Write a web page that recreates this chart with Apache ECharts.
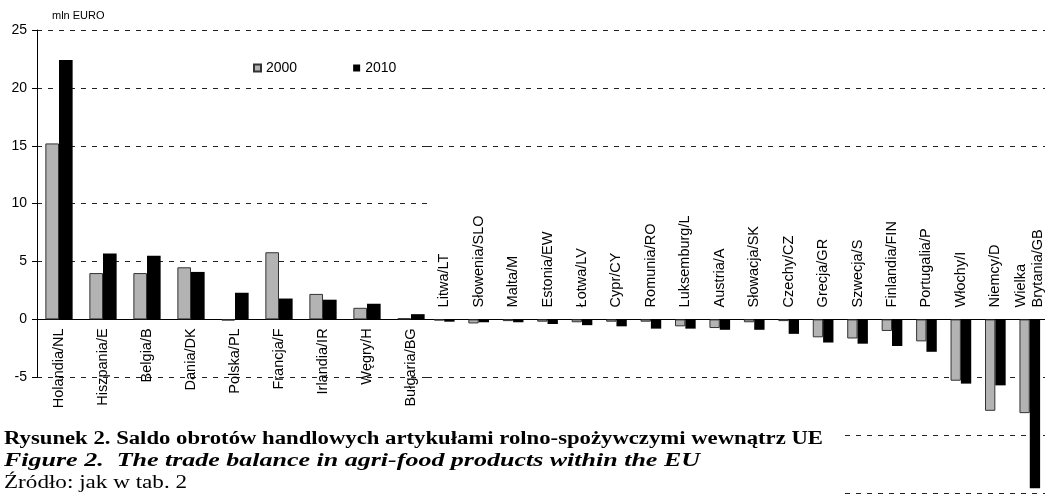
<!DOCTYPE html>
<html>
<head>
<meta charset="utf-8">
<script src="https://cdn.jsdelivr.net/npm/echarts@6/dist/echarts.min.js"></script>
<style>
  html, body { margin: 0; padding: 0; background: #fff; }
  #chart { width: 1045px; height: 494px; }
</style>
</head>
<body>
<div id="chart"></div>
<script>
// countries with a surplus (left part) and with a deficit (right part)
const catsLeft = ['Holandia/NL', 'Hiszpania/E', 'Belgia/B', 'Dania/DK', 'Polska/PL', 'Francja/F', 'Irlandia/IR', 'Węgry/H', 'Bułgaria/BG'];
const y2000Left = [15.2, 4.0, 4.0, 4.5, -0.1, 5.8, 2.2, 1.0, 0.1];
const y2010Left = [22.4, 5.7, 5.5, 4.1, 2.3, 1.8, 1.7, 1.35, 0.45];

const catsRight = ['Litwa/LT', 'Słowenia/SLO', 'Malta/M', 'Estonia/EW', 'Łotwa/LV', 'Cypr/CY', 'Romunia/RO', 'Luksemburg/L', 'Austria/A', 'Słowacja/SK', 'Czechy/CZ', 'Grecja/GR', 'Szwecja/S', 'Finlandia/FIN', 'Portugalia/P', 'Włochy/I', 'Niemcy/D', 'Wielka\nBrytania/GB'];
const y2000Right = [-0.1, -0.35, -0.15, -0.2, -0.25, -0.2, -0.2, -0.6, -0.75, -0.25, -0.15, -1.55, -1.65, -1.0, -1.9, -5.3, -7.9, -8.1];
const y2010Right = [-0.2, -0.25, -0.25, -0.4, -0.5, -0.6, -0.8, -0.8, -0.9, -0.9, -1.25, -2.0, -2.1, -2.3, -2.8, -5.55, -5.7, -14.6];

const seriesNames = ['2000', '2010'];
const unitName = 'mln EURO';
const captionLines = [
  'Rysunek 2. Saldo obrotów handlowych artykułami rolno-spożywczymi wewnątrz UE',
  'Figure 2.  The trade balance in agri-food products within the EU',
  'Źródło: jak w tab. 2'
];

const sans = '"Liberation Sans", Arial, sans-serif';

// one vertical scale for every panel: 25 at the top, -15 at the bottom edge
const gridTop = 30;
const pxPerUnit = 463 / 40;
const leftMin = -5, rightMin = -15, yMax = 25, upperMin = 15;
const zeroY = gridTop + yMax * pxPerUnit;

// stretch caption text to the width it has in the figure
const ctx = document.createElement('canvas').getContext('2d');
const measure = (font, text) => { ctx.font = font; return ctx.measureText(text).width; };
const f1 = 'bold 18px "Liberation Serif"';
const f2 = 'italic bold 18px "Liberation Serif"';
const f3 = '18px "Liberation Serif"';
const sx1 = 819 / measure(f1, captionLines[0]);
const sx2 = 696 / measure(f2, captionLines[1]);
const sx3 = 183 / measure(f3, captionLines[2]);

const grid = { color: '#222', type: [5, 6], width: 1 };
const greyStyle = { color: '#b3b3b3', borderColor: '#333', borderWidth: 1 };
const blackStyle = { color: '#000' };

const chart = echarts.init(document.getElementById('chart'));
chart.setOption({
  animation: false,
  legend: {
    data: seriesNames,
    left: 248, top: 56,
    icon: 'rect', itemWidth: 7, itemHeight: 7, itemGap: 56,
    textStyle: { fontFamily: sans, fontSize: 14, color: '#000' }
  },
  grid: [
    // left panel (surplus countries)
    { left: 37, top: gridTop, width: 396, height: (yMax - leftMin) * pxPerUnit, outerBoundsMode: 'none' },
    // right panel, upper gridlines only
    { left: 427, top: gridTop, width: 620, height: (yMax - upperMin) * pxPerUnit, outerBoundsMode: 'none' },
    // right panel, bars below zero
    { left: 427, top: zeroY, width: 620, height: -rightMin * pxPerUnit, outerBoundsMode: 'none' }
  ],
  xAxis: [
    {
      type: 'category', gridIndex: 0, data: catsLeft, position: 'bottom',
      offset: leftMin * pxPerUnit,
      axisLine: { onZero: false, lineStyle: { color: '#000' } },
      axisTick: { length: 4, lineStyle: { color: '#000' } },
      axisLabel: { rotate: 90, margin: 9, interval: 0, fontFamily: sans, fontSize: 14.5, color: '#000' }
    },
    { type: 'value', gridIndex: 1, show: false, min: 0, max: 1 },
    {
      type: 'category', gridIndex: 2, data: catsRight, position: 'top',
      axisLine: { onZero: false, lineStyle: { color: '#000' } },
      axisTick: { length: 4, inside: true, lineStyle: { color: '#000' } },
      axisLabel: { rotate: -90, margin: 12, interval: 0, fontFamily: sans, fontSize: 14.5, color: '#000', lineHeight: 17 }
    }
  ],
  yAxis: [
    {
      type: 'value', gridIndex: 0, min: leftMin, max: yMax, interval: 5,
      name: unitName, nameLocation: 'end', nameGap: 9,
      nameTextStyle: { fontFamily: sans, fontSize: 11, color: '#000', align: 'left', padding: [0, 0, 0, 15] },
      axisLine: { show: true, lineStyle: { color: '#000' } },
      axisTick: { show: true, length: 5, lineStyle: { color: '#000' } },
      axisLabel: { margin: 10, fontFamily: sans, fontSize: 14, color: '#000' },
      splitLine: { lineStyle: grid }
    },
    {
      type: 'value', gridIndex: 1, min: upperMin, max: yMax, interval: 5,
      axisLine: { show: false }, axisTick: { show: false }, axisLabel: { show: false },
      splitLine: { lineStyle: grid }
    },
    {
      type: 'value', gridIndex: 2, min: rightMin, max: 0, interval: 5,
      axisLine: { show: false }, axisTick: { show: false }, axisLabel: { show: false },
      splitLine: { lineStyle: grid }
    }
  ],
  series: [
    { name: seriesNames[0], type: 'bar', xAxisIndex: 0, yAxisIndex: 0, data: y2000Left, itemStyle: greyStyle, barGap: '0%', barCategoryGap: '38%' },
    { name: seriesNames[1], type: 'bar', xAxisIndex: 0, yAxisIndex: 0, data: y2010Left, itemStyle: blackStyle, barGap: '0%', barCategoryGap: '38%' },
    { name: seriesNames[0], type: 'bar', xAxisIndex: 2, yAxisIndex: 2, data: y2000Right, itemStyle: greyStyle, barGap: '0%', barCategoryGap: '40%' },
    { name: seriesNames[1], type: 'bar', xAxisIndex: 2, yAxisIndex: 2, data: y2010Right, itemStyle: blackStyle, barGap: '0%', barCategoryGap: '40%' }
  ],
  graphic: [
    { type: 'rect', z: 100, shape: { x: 0, y: 421, width: 841, height: 73 }, style: { fill: '#fff' } },
    { type: 'text', z: 101, x: 4, y: 439, scaleX: sx1,
      style: { text: captionLines[0], font: f1, fill: '#000', verticalAlign: 'middle' } },
    { type: 'text', z: 101, x: 4, y: 461, scaleX: sx2,
      style: { text: captionLines[1], font: f2, fill: '#000', verticalAlign: 'middle' } },
    { type: 'text', z: 101, x: 4, y: 483, scaleX: sx3,
      style: { text: captionLines[2], font: f3, fill: '#000', verticalAlign: 'middle' } }
  ]
});
</script>
</body>
</html>
